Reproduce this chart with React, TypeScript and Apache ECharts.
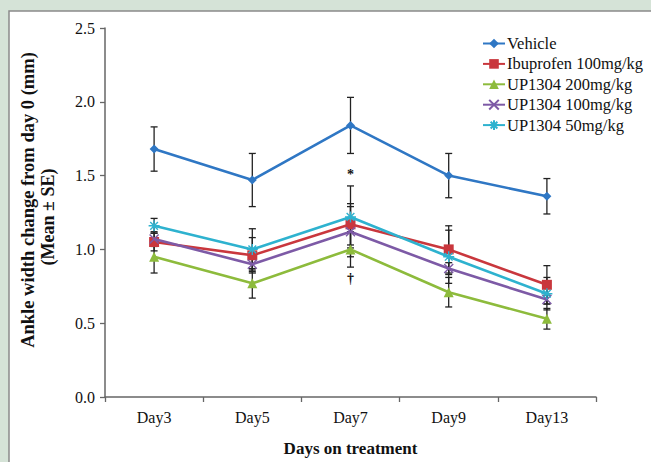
import React, { useEffect, useRef } from "react";
import * as echarts from "echarts";

const days = ["Day3", "Day5", "Day7", "Day9", "Day13"];
const seriesNames = [
  "Vehicle",
  "Ibuprofen 100mg/kg",
  "UP1304 200mg/kg",
  "UP1304 100mg/kg",
  "UP1304 50mg/kg",
];
const vehicle = [1.68, 1.47, 1.84, 1.5, 1.36];
const vehicleSE = [0.15, 0.18, 0.19, 0.15, 0.12];
const ibuprofen = [1.05, 0.96, 1.17, 1.0, 0.76];
const ibuprofenSE = [0.06, 0.12, 0.14, 0.16, 0.13];
const up200 = [0.95, 0.77, 1.0, 0.71, 0.53];
const up200SE = [0.11, 0.1, 0.12, 0.1, 0.07];
const up100 = [1.07, 0.9, 1.12, 0.87, 0.66];
const up100SE = [0.05, 0.05, 0.17, 0.04, 0.03];
const up50 = [1.16, 1.0, 1.22, 0.95, 0.7];
const up50SE = [0.05, 0.14, 0.21, 0.18, 0.11];
const yMin = 0;
const yMax = 2.5;
const yStep = 0.5;
const annotationDays = [2, 2];
const annotationValues = [1.51, 0.8];
const annotationTexts = ["*", "†"];

const colors = ["#2f77c4", "#c9373d", "#8dbb3c", "#7d5aa6", "#2eb2cf"];
const symbols = [
  "diamond",
  "rect",
  "triangle",
  "path://M0,0L10,10M10,0L0,10",
  "path://M5,0L5,10M0,5L10,5M1.5,1.5L8.5,8.5M8.5,1.5L1.5,8.5",
];
const symbolSizes = [9, 10, 10, 9, 11];

const serif = "'Liberation Serif', 'Times New Roman', serif";

export default function App() {
  const ref = useRef<HTMLDivElement>(null);
  useEffect(() => {
    if (!ref.current) return;
    const chart = echarts.init(ref.current, undefined, { renderer: "svg" });
    const means = [vehicle, ibuprofen, up200, up100, up50];
    const ses = [vehicleSE, ibuprofenSE, up200SE, up100SE, up50SE];

    const errData: number[][] = [];
    means.forEach((m, s) => {
      m.forEach((v, i) => {
        errData.push([i, +(v - ses[s][i]).toFixed(3), +(v + ses[s][i]).toFixed(3)]);
      });
    });

    const lineSeries = seriesNames.map((name, s) => {
      const isPath = s >= 3;
      return {
        name,
        type: "line",
        data: means[s],
        symbol: symbols[s],
        symbolSize: symbolSizes[s],
        z: 3 + s,
        lineStyle: { color: colors[s], width: 2.6 },
        itemStyle: isPath
          ? { color: colors[s], borderColor: colors[s], borderWidth: 1.4 }
          : { color: colors[s] },
        emphasis: { disabled: true },
      };
    });

    const option = {
      animation: false,
      backgroundColor: "transparent",
      graphic: [
        {
          type: "rect",
          z: -10,
          shape: { x: 9, y: 11, width: 700, height: 500 },
          style: { fill: "#ffffff", stroke: "#8a8a8a", lineWidth: 1.5 },
        },
        {
          type: "text",
          x: 28,
          y: 200,
          rotation: Math.PI / 2,
          style: {
            text: "Ankle width change from day 0 (mm)",
            font: `bold 18.5px ${serif}`,
            fill: "#111",
            textAlign: "center",
            textVerticalAlign: "middle",
          },
        },
        {
          type: "text",
          x: 48,
          y: 217,
          rotation: Math.PI / 2,
          style: {
            text: "(Mean ± SE)",
            font: `bold 18px ${serif}`,
            fill: "#111",
            textAlign: "center",
            textVerticalAlign: "middle",
          },
        },
      ],
      grid: { left: 105, top: 28, right: 55, bottom: 65 },
      legend: {
        data: seriesNames,
        orient: "vertical",
        left: 482,
        top: 35,
        padding: 0,
        itemWidth: 22,
        itemHeight: 12,
        itemGap: 3.4,
        textStyle: {
          fontFamily: serif,
          fontSize: 16.5,
          lineHeight: 16,
          color: "#111",
          padding: [0, 0, 0, -3],
        },
        selectedMode: false,
      },
      xAxis: {
        type: "category",
        data: days,
        boundaryGap: true,
        name: "Days on treatment",
        nameLocation: "middle",
        nameGap: 43,
        nameTextStyle: { fontFamily: serif, fontSize: 17, fontWeight: "bold", color: "#111" },
        axisLine: { lineStyle: { color: "#666", width: 1.5 } },
        axisTick: { show: true, alignWithLabel: false, length: 5, lineStyle: { color: "#666", width: 1.3 } },
        axisLabel: { fontFamily: serif, fontSize: 16, color: "#111", margin: 12 },
        splitLine: { show: false },
      },
      yAxis: {
        type: "value",
        min: yMin,
        max: yMax,
        interval: yStep,
        axisLine: { show: true, lineStyle: { color: "#666", width: 1.5 } },
        axisTick: { show: true, length: 5, lineStyle: { color: "#666", width: 1.3 } },
        axisLabel: {
          fontFamily: serif,
          fontSize: 16,
          color: "#111",
          margin: 10,
          formatter: (v: number) => v.toFixed(1),
        },
        splitLine: { show: false },
      },
      series: [
        {
          type: "custom",
          name: "errorbars",
          z: 2,
          data: errData,
          encode: { x: 0, y: [1, 2] },
          renderItem: (params: any, api: any) => {
            const x = api.value(0);
            const lo = api.coord([x, api.value(1)]);
            const hi = api.coord([x, api.value(2)]);
            const w = 3.5;
            const st = { stroke: "#222", lineWidth: 1.3 };
            return {
              type: "group",
              children: [
                { type: "line", shape: { x1: lo[0], y1: lo[1], x2: hi[0], y2: hi[1] }, style: st },
                { type: "line", shape: { x1: lo[0] - w, y1: lo[1], x2: lo[0] + w, y2: lo[1] }, style: st },
                { type: "line", shape: { x1: hi[0] - w, y1: hi[1], x2: hi[0] + w, y2: hi[1] }, style: st },
              ],
            };
          },
        },
        ...lineSeries,
        {
          type: "custom",
          name: "annotations",
          z: 10,
          data: annotationDays.map((d, i) => [d, annotationValues[i], i]),
          encode: { x: 0, y: 1 },
          renderItem: (params: any, api: any) => {
            const p = api.coord([api.value(0), api.value(1)]);
            const idx = api.value(2);
            return {
              type: "text",
              x: p[0],
              y: p[1],
              style: {
                text: annotationTexts[idx],
                font: `bold 14px ${serif}`,
                fill: "#111",
                textAlign: "center",
                textVerticalAlign: "middle",
              },
            };
          },
        },
      ],
    };
    chart.setOption(option as any);
    return () => chart.dispose();
  }, []);

  return (
    <div
      style={{
        position: "fixed",
        left: 0,
        top: 0,
        width: 651,
        height: 462,
        background: "#d5e3d7",
      }}
    >
      <div ref={ref} style={{ width: 651, height: 462 }} />
    </div>
  );
}
